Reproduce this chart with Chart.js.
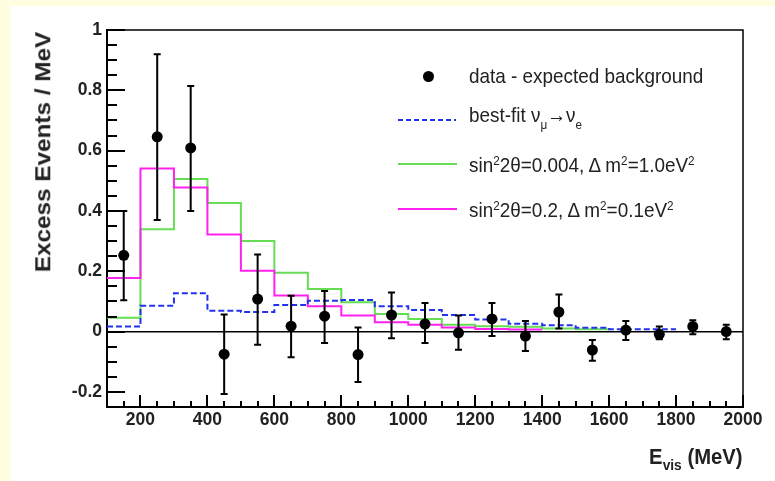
<!DOCTYPE html>
<html><head><meta charset="utf-8">
<script src="https://cdn.jsdelivr.net/npm/chart.js@4.4.0/dist/chart.umd.min.js"></script>
<style>
html,body{margin:0;padding:0;}
body{width:775px;height:481px;background:#fffee0;position:relative;overflow:hidden;font-family:"Liberation Sans",Arial,sans-serif;color:#222;}
#panel{position:absolute;left:11px;top:6px;width:764px;height:475px;background:#fff;}
#c{position:absolute;left:0;top:0;}
.lt{position:absolute;font-size:21px;line-height:21px;white-space:nowrap;transform:scaleX(0.9);transform-origin:0 0;}
.lt sup{font-size:0.62em;vertical-align:0.55em;line-height:0;}
.lt sub{font-size:0.62em;vertical-align:-0.5em;line-height:0;}
.sym{position:absolute;}
#ytitle{position:absolute;left:42.5px;top:152px;font-weight:bold;font-size:24.3px;line-height:24.3px;white-space:nowrap;transform:translate(-50%,-50%) rotate(-90deg) scaleY(0.9);}
#xtitle{position:absolute;right:33px;top:446px;font-weight:bold;font-size:22px;line-height:22px;white-space:nowrap;transform:scaleX(0.92);transform-origin:100% 0;}
#xtitle sub{font-size:0.68em;vertical-align:-0.4em;line-height:0;}
</style>
</head><body>
<div id="panel"></div>
<canvas id="c" width="775" height="481"></canvas>

<div class="sym" style="left:422.5px;top:70.5px;width:11px;height:11px;border-radius:50%;background:#000;"></div>
<div class="lt" style="left:469px;top:65px;">data - expected background</div>

<div class="sym" style="left:398px;top:119px;width:58px;height:2px;background-image:repeating-linear-gradient(to right,#2233ee 0 5px,transparent 5px 8px);"></div>
<div class="lt" style="left:469px;top:104px;">best-fit &#957;<sub>&#956;</sub>&#8594;&#957;<sub>e</sub></div>

<div class="sym" style="left:398px;top:163px;width:59px;height:2px;background:#66dd55;"></div>
<div class="lt" style="left:469px;top:154px;">sin<sup>2</sup>2&#952;=0.004, &#916; m<sup>2</sup>=1.0eV<sup>2</sup></div>

<div class="sym" style="left:398px;top:208px;width:59px;height:2px;background:#ff22ee;"></div>
<div class="lt" style="left:469px;top:199px;">sin<sup>2</sup>2&#952;=0.2, &#916; m<sup>2</sup>=0.1eV<sup>2</sup></div>

<div id="ytitle">Excess Events / MeV</div>
<div id="xtitle">E<sub>vis</sub> (MeV)</div>

<script>
// ---- data ----
const binEdges = [100,200,300,400,500,600,700,800,900,1000,1100,1200,1300,1400,1500,1600,1700,1800,1900,2000];
const bestFit   = [0.017,0.086,0.127,0.069,0.065,0.088,0.102,0.105,0.084,0.072,0.055,0.040,0.026,0.021,0.013,0.008,0.008];
const green004  = [0.046,0.339,0.506,0.426,0.300,0.195,0.141,0.097,0.058,0.042,0.023,0.018,0.016,0.010,0.008];
const magenta02 = [0.178,0.541,0.478,0.322,0.202,0.120,0.084,0.053,0.031,0.023,0.014,0.009,0.007];

const dataE      = [150,250,350,450,550,650,750,850,950,1050,1150,1250,1350,1450,1550,1650,1750,1850,1950];
const dataExcess = [0.253,0.646,0.609,-0.075,0.108,0.018,0.051,-0.076,0.055,0.025,-0.004,0.042,-0.015,0.065,-0.061,0.005,-0.009,0.017,0.000];
const errUp      = [0.400,0.920,0.814,0.057,0.256,0.119,0.135,0.014,0.130,0.095,0.053,0.095,0.035,0.123,-0.028,0.035,0.017,0.038,0.023];
const errDown    = [0.104,0.370,0.400,-0.207,-0.044,-0.085,-0.038,-0.167,-0.022,-0.038,-0.060,-0.015,-0.064,0.010,-0.097,-0.028,-0.025,-0.009,-0.025];

const xTickLabels = [200,400,600,800,1000,1200,1400,1600,1800,2000];
const yTickLabels = [-0.2,0,0.2,0.4,0.6,0.8,1];

function stepPoints(vals){
  const pts = vals.map((v,i)=>({x:binEdges[i],y:v}));
  pts.push({x:binEdges[vals.length], y:vals[vals.length-1]});
  return pts;
}

const errorBars = {
  id:'errorBars',
  afterDatasetsDraw(chart){
    const {ctx, scales:{x,y}} = chart;
    ctx.save();
    ctx.strokeStyle='#000'; ctx.lineWidth=2;
    dataE.forEach((e,i)=>{
      const px = x.getPixelForValue(e);
      const pt = y.getPixelForValue(errUp[i]);
      const pb = y.getPixelForValue(errDown[i]);
      ctx.beginPath();
      ctx.moveTo(px,pt); ctx.lineTo(px,pb);
      ctx.moveTo(px-3.5,pt); ctx.lineTo(px+3.5,pt);
      ctx.moveTo(px-3.5,pb); ctx.lineTo(px+3.5,pb);
      ctx.stroke();
    });
    ctx.restore();
  }
};

const frameTicks = {
  id:'frameTicks',
  afterDraw(chart){
    const {ctx, chartArea:a, scales:{x,y}} = chart;
    ctx.save();
    ctx.strokeStyle='#000';
    ctx.lineWidth=1.5;
    ctx.beginPath();
    ctx.moveTo(a.left,a.top); ctx.lineTo(a.right,a.top); ctx.lineTo(a.right,a.bottom);
    ctx.stroke();
    ctx.lineWidth=2;
    ctx.beginPath();
    for(let k=-5;k<=20;k++){
      const v = k*0.05;
      const py = Math.round(y.getPixelForValue(v));
      const len = (k%4===0)?18:10;
      ctx.moveTo(a.left,py); ctx.lineTo(a.left+len,py);
    }
    for(let v=100; v<=2000; v+=50){
      const px = Math.round(x.getPixelForValue(v));
      const len = (v%200===0)?12:6;
      ctx.moveTo(px,a.bottom); ctx.lineTo(px,a.bottom-len);
    }
    ctx.stroke();
    ctx.restore();
  }
};

const tickFont = {family:'"Liberation Sans", Arial, sans-serif', size:17.5, weight:'bold'};

new Chart(document.getElementById('c'), {
  type:'scatter',
  data:{
    datasets:[
      {label:'data - expected background', data:dataE.map((e,i)=>({x:e,y:dataExcess[i]})),
       pointRadius:5.5, pointBackgroundColor:'#000', pointBorderColor:'#000', pointBorderWidth:0, showLine:false},
      {type:'line', label:'best-fit', data:stepPoints(bestFit), stepped:'before', borderColor:'#2233ee',
       borderWidth:2, borderDash:[6,3], pointRadius:0, fill:false},
      {type:'line', label:'sin22t=0.2', data:stepPoints(magenta02), stepped:'before', borderColor:'#ff22ee',
       borderWidth:2, pointRadius:0, fill:false},
      {type:'line', label:'sin22t=0.004', data:stepPoints(green004), stepped:'before', borderColor:'#66dd55',
       borderWidth:2, pointRadius:0, fill:false}
    ]
  },
  options:{
    responsive:false, animation:false, devicePixelRatio:1,
    layout:{padding:{top:30,right:32,left:0,bottom:0}},
    plugins:{legend:{display:false}, tooltip:{enabled:false}},
    scales:{
      x:{type:'linear', min:100, max:2000,
         afterBuildTicks:s=>{s.ticks = xTickLabels.map(v=>({value:v}));},
         afterFit:s=>{s.height=74;},
         grid:{display:false, drawTicks:false},
         border:{display:true, color:'#000', width:2},
         ticks:{font:tickFont, color:'#222', padding:3, maxRotation:0, autoSkip:false, callback:v=>String(v)}},
      y:{type:'linear', min:-0.25, max:1,
         afterBuildTicks:s=>{s.ticks = yTickLabels.map(v=>({value:v}));},
         afterFit:s=>{s.width=107;},
         grid:{display:true, drawTicks:false, lineWidth:1.5,
               color:c=>(c.tick && c.tick.value===0)?'#000':'rgba(0,0,0,0)'},
         border:{display:true, color:'#000', width:2},
         ticks:{font:tickFont, color:'#222', padding:5, autoSkip:false, callback:v=>String(v)}}
    }
  },
  plugins:[errorBars, frameTicks]
});
</script>
</body></html>
